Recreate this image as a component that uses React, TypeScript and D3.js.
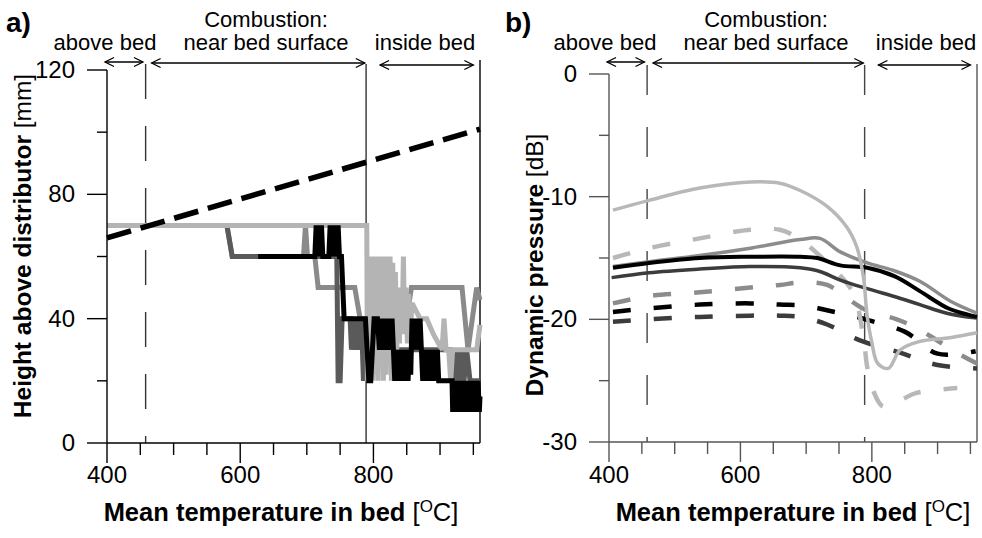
import * as d3 from 'd3'

const FONT = "'Liberation Sans', Arial, sans-serif"

// shared temperature axis
const TEMP_TICKS = [400, 450, 500, 550, 600, 650, 700, 750, 800, 850, 900, 950]
const TEMP_LABELS = [400, 600, 800]
const ZONE_EDGES = [458, 789]

// zone annotations, in °C
const ZONE_NAMES = ['above bed', 'near bed surface', 'inside bed']
const ZONE_FROM = [397, 467, 810]
const ZONE_TO = [454, 787, 950]

// panel a) axis
const HEIGHT_TICKS = [0, 20, 40, 60, 80, 100, 120]
const HEIGHT_LABELS = [0, 40, 80, 120]

// panel b) axis
const DB_TICKS = [0, -5, -10, -15, -20, -25, -30]
const DB_LABELS = [0, -10, -20, -30]

// panel a) series: [temperature °C, height mm]
const bedSurface = [[400, 66], [960, 101]]

const heightMed = [
  [400, 70], [580, 70], [588, 60], [695, 60], [698, 70], [701, 60], [712, 60], [717, 50],
  [772, 50], [780, 40], [800, 40], [805, 30], [810, 40], [820, 30], [830, 40], [850, 40],
  [857, 50], [933, 50], [942, 30], [955, 50], [960, 46],
]

const heightDark = [
  [400, 70], [580, 70], [588, 60], [745, 60], [747, 20], [750, 20], [753, 40], [765, 40],
  [767, 30], [770, 40], [773, 30], [776, 40], [779, 30], [782, 40], [785, 20], [788, 40],
  [800, 30], [830, 30], [912, 30], [915, 30], [918, 20], [921, 30], [924, 20], [927, 30],
  [930, 20], [933, 30], [936, 20], [940, 30], [945, 20], [960, 20],
]

const heightLight = [
  [400, 70], [790, 70], [791, 20], [793, 60], [795, 22], [797, 60], [799, 20], [801, 60],
  [803, 22], [805, 60], [807, 20], [809, 60], [811, 25], [813, 60], [815, 20], [817, 60],
  [819, 22], [821, 60], [823, 28], [825, 60], [827, 20], [829, 58], [831, 30], [833, 55],
  [835, 30], [837, 50], [839, 32], [841, 50], [843, 35], [845, 60], [847, 35], [849, 50],
  [851, 32], [853, 48], [855, 35], [858, 45], [870, 40], [880, 40], [890, 35], [903, 30],
  [906, 40], [909, 30], [913, 30], [916, 20], [919, 30], [955, 30], [960, 38],
]

const heightBlack = [
  [627, 60], [712, 60], [714, 70], [716, 60], [718, 70], [720, 60], [722, 70], [724, 60],
  [733, 60], [735, 70], [737, 60], [739, 70], [741, 60], [743, 70], [745, 60], [747, 70],
  [749, 60], [752, 60], [756, 40], [788, 40], [793, 20], [796, 20], [801, 40], [806, 40],
  [809, 30], [811, 40], [814, 30], [817, 40], [819, 30], [822, 40], [825, 30], [828, 40],
  [830, 30], [832, 20], [834, 30], [836, 20], [838, 30], [840, 20], [842, 30], [844, 20],
  [846, 30], [848, 20], [850, 30], [852, 20], [854, 30], [856, 22], [858, 40], [860, 30],
  [862, 40], [864, 30], [866, 40], [868, 30], [870, 40], [872, 30], [874, 20], [876, 30],
  [878, 20], [880, 30], [882, 20], [884, 30], [886, 20], [888, 30], [890, 20], [892, 30],
  [894, 20], [896, 30], [898, 20], [918, 20], [919, 10], [921, 20], [923, 10], [925, 20],
  [927, 10], [929, 20], [931, 10], [933, 20], [935, 10], [937, 20], [939, 10], [941, 20],
  [943, 10], [945, 20], [947, 10], [949, 20], [951, 10], [953, 20], [955, 10], [957, 20],
  [959, 10], [960, 15],
]

// panel b) series: [temperature °C, dB]
const pressLightSolid = [
  [406, -11.1], [461, -10.3], [538, -9.3], [615, -8.8], [660, -8.9], [691, -9.5], [732, -10.8],
  [762, -12.5], [777, -14.1], [787, -16.5], [793, -19.8], [800, -21.9], [809, -23.6],
  [825, -24.0], [843, -22.5], [873, -21.8], [919, -21.5], [960, -21.1],
]
const pressMedSolid = [
  [406, -15.7], [461, -15.3], [538, -14.8], [615, -14.2], [691, -13.5], [721, -13.4],
  [752, -14.5], [793, -15.4], [832, -16.0], [873, -16.9], [919, -18.5], [960, -19.5],
]
const pressBlackSolid = [
  [406, -15.8], [461, -15.4], [538, -15.0], [615, -14.9], [691, -14.9], [717, -15.0],
  [752, -15.6], [793, -15.8], [835, -16.5], [873, -17.7], [916, -19.1], [945, -19.6], [960, -19.8],
]
const pressDarkSolid = [
  [404, -16.6], [461, -16.2], [538, -15.9], [615, -15.7], [691, -15.8], [721, -16.1],
  [752, -16.8], [793, -17.5], [838, -18.2], [873, -18.8], [914, -19.5], [960, -19.9],
]
const pressLightDash = [
  [406, -15.0], [461, -14.2], [538, -13.4], [615, -12.7], [660, -12.7], [691, -13.5],
  [732, -15.4], [771, -17.8], [787, -21.4], [793, -23.9], [802, -25.8], [817, -27.1],
  [843, -26.6], [868, -26.0], [930, -25.6],
]
const pressMedDash = [
  [406, -18.7], [461, -18.1], [538, -17.8], [615, -17.4], [660, -17.2], [691, -17.0],
  [732, -17.2], [771, -18.6], [793, -19.3], [838, -20.0], [868, -20.7], [890, -21.4],
  [935, -22.9], [960, -23.6],
]
const pressBlackDash = [
  [406, -19.4], [461, -19.1], [538, -18.8], [615, -18.7], [660, -18.8], [700, -18.9],
  [735, -19.3], [770, -19.7], [797, -20.1], [850, -21.0], [900, -22.8], [958, -22.6],
]
const pressDarkDash = [
  [406, -20.2], [461, -20.0], [538, -19.8], [615, -19.7], [660, -19.7], [691, -19.8],
  [731, -20.4], [781, -21.7], [842, -22.7], [898, -23.7], [960, -24.0],
]

type Pt = number[]
type Scale = d3.ScaleLinear<number, number>

function Arrow({ x1, x2, y }: { x1: number; x2: number; y: number }) {
  const h = 9, w = 4.5
  return (
    <g stroke="#000" strokeWidth={1.3} fill="none">
      <line x1={x1} x2={x2} y1={y} y2={y} />
      <path d={`M${x1 + h},${y - w}L${x1},${y}L${x1 + h},${y + w}`} />
      <path d={`M${x2 - h},${y - w}L${x2},${y}L${x2 - h},${y + w}`} />
    </g>
  )
}

function Zones({ x, labelX }: { x: Scale; labelX: number[] }) {
  const arrowY = [62, 63, 65]
  return (
    <g fontFamily={FONT} fontSize={22} fill="#000">
      <text x={labelX[1]} y={27} textAnchor="middle">Combustion:</text>
      {ZONE_NAMES.map((n, i) => (
        <text key={n} x={labelX[i]} y={50} textAnchor="middle">{n}</text>
      ))}
      {ZONE_NAMES.map((n, i) => (
        <Arrow key={'a' + n} x1={x(ZONE_FROM[i])} x2={x(ZONE_TO[i])} y={arrowY[i]} />
      ))}
    </g>
  )
}

function TempAxis({ x, y0, color }: { x: Scale; y0: number; color: string }) {
  const [r0, r1] = x.range()
  return (
    <g stroke={color} strokeWidth={1.4}>
      <line x1={r0} x2={r1} y1={y0} y2={y0} />
      {TEMP_TICKS.map(t => (
        <line key={t} x1={x(t)} x2={x(t)} y1={y0} y2={y0 + (TEMP_LABELS.includes(t) ? 20 : 12)} />
      ))}
      {TEMP_LABELS.map(t => (
        <text key={'l' + t} x={x(t)} y={483} textAnchor="middle" fontFamily={FONT} fontSize={24}
          fill="#000" stroke="none">{t}</text>
      ))}
    </g>
  )
}

function ValueAxis({ y, x0, ticks, labels, color }:
  { y: Scale; x0: number; ticks: number[]; labels: number[]; color: string }) {
  const [r0, r1] = y.range()
  return (
    <g stroke={color} strokeWidth={1.4}>
      <line x1={x0} x2={x0} y1={r0} y2={r1} />
      {ticks.map(t => (
        <line key={t} x1={x0 - (labels.includes(t) ? 20 : 10)} x2={x0} y1={y(t)} y2={y(t)} />
      ))}
      {labels.map(t => (
        <text key={'l' + t} x={x0 - 32} y={y(t) + 8} textAnchor="end" fontFamily={FONT}
          fontSize={24} fill="#000" stroke="none">{t}</text>
      ))}
    </g>
  )
}

function TempTitle({ cx }: { cx: number }) {
  return (
    <text x={cx} y={521} textAnchor="middle" fontFamily={FONT} fontSize={25.5} fill="#000">
      <tspan fontWeight="bold">Mean temperature in bed</tspan>
      <tspan> [</tspan>
      <tspan fontSize={17} dy={-9}>O</tspan>
      <tspan dy={9}>C]</tspan>
    </text>
  )
}

function PanelA() {
  const x = d3.scaleLinear([400, 960], [107, 480])
  const y = d3.scaleLinear([0, 120], [443, 70])
  const line = d3.line<Pt>().x(d => x(d[0])).y(d => y(d[1]))
  const steps = [
    { data: heightMed, color: '#8a8a8a' },
    { data: heightDark, color: '#5a5a5a' },
    { data: heightLight, color: '#b4b4b4' },
    { data: heightBlack, color: '#000' },
  ]
  const [r0, r1] = x.range()
  return (
    <g>
      <text x={6} y={32} fontFamily={FONT} fontWeight="bold" fontSize={28}>a)</text>
      <Zones x={x} labelX={[105, 266, 425]} />
      <line x1={r1} x2={r1} y1={60} y2={y(0)} stroke="#000" strokeWidth={1.4} />
      <line x1={x(ZONE_EDGES[0])} x2={x(ZONE_EDGES[0])} y1={64} y2={y(0)} stroke="#333"
        strokeWidth={1.4} strokeDasharray="35,27" />
      <line x1={x(ZONE_EDGES[1])} x2={x(ZONE_EDGES[1])} y1={64} y2={y(0)} stroke="#333"
        strokeWidth={1.4} />
      {steps.map((s, i) => (
        <path key={i} d={line(s.data) ?? ''} fill="none" stroke={s.color} strokeWidth={5}
          strokeLinejoin="miter" strokeMiterlimit={2} />
      ))}
      <path d={line(bedSurface) ?? ''} fill="none" stroke="#000" strokeWidth={5.5}
        strokeDasharray="25,10" />
      <ValueAxis y={y} x0={r0} ticks={HEIGHT_TICKS} labels={HEIGHT_LABELS} color="#000" />
      <TempAxis x={x} y0={y(0)} color="#000" />
      <text transform={`translate(31,246) rotate(-90)`} textAnchor="middle" fontFamily={FONT}
        fontSize={24.5}>
        <tspan fontWeight="bold">Height above distributor</tspan>
        <tspan> [mm]</tspan>
      </text>
      <TempTitle cx={281} />
    </g>
  )
}

function PanelB() {
  const x = d3.scaleLinear([400, 960], [609, 977])
  const y = d3.scaleLinear([-30, 0], [442, 74])
  const curve = d3.line<Pt>().x(d => x(d[0])).y(d => y(d[1])).curve(d3.curveCatmullRom.alpha(0.5))
  const dashed = [
    { data: pressDarkDash, color: '#3c3c3c' },
    { data: pressBlackDash, color: '#000' },
    { data: pressMedDash, color: '#8c8c8c' },
    { data: pressLightDash, color: '#b8b8b8' },
  ]
  const solid = [
    { data: pressDarkSolid, color: '#3c3c3c', w: 3.5 },
    { data: pressMedSolid, color: '#8c8c8c', w: 3.5 },
    { data: pressBlackSolid, color: '#000', w: 4 },
    { data: pressLightSolid, color: '#b8b8b8', w: 3.5 },
  ]
  const [r0, r1] = x.range()
  return (
    <g>
      <text x={505} y={32} fontFamily={FONT} fontWeight="bold" fontSize={28}>b)</text>
      <Zones x={x} labelX={[605, 766, 926]} />
      <line x1={r1} x2={r1} y1={64} y2={y(-30)} stroke="#555" strokeWidth={1.4} />
      {ZONE_EDGES.map(t => (
        <line key={t} x1={x(t)} x2={x(t)} y1={65} y2={y(-30)} stroke="#444" strokeWidth={1.4}
          strokeDasharray="30,32" />
      ))}
      {dashed.map((s, i) => (
        <path key={'d' + i} d={curve(s.data) ?? ''} fill="none" stroke={s.color} strokeWidth={4.5}
          strokeDasharray="18,23" />
      ))}
      {solid.map((s, i) => (
        <path key={'s' + i} d={curve(s.data) ?? ''} fill="none" stroke={s.color} strokeWidth={s.w} />
      ))}
      <ValueAxis y={y} x0={r0} ticks={DB_TICKS} labels={DB_LABELS} color="#555" />
      <TempAxis x={x} y0={y(-30)} color="#555" />
      <text transform={`translate(543,265) rotate(-90)`} textAnchor="middle" fontFamily={FONT}
        fontSize={24.5}>
        <tspan fontWeight="bold">Dynamic pressure</tspan>
        <tspan> [dB]</tspan>
      </text>
      <TempTitle cx={793} />
    </g>
  )
}

export default function App() {
  return (
    <div style={{ position: 'absolute', left: 0, top: 0, background: '#fff' }}>
      <svg width={982} height={538} style={{ display: 'block' }}>
        <rect width={982} height={538} fill="#fff" />
        <PanelA />
        <PanelB />
      </svg>
    </div>
  )
}
